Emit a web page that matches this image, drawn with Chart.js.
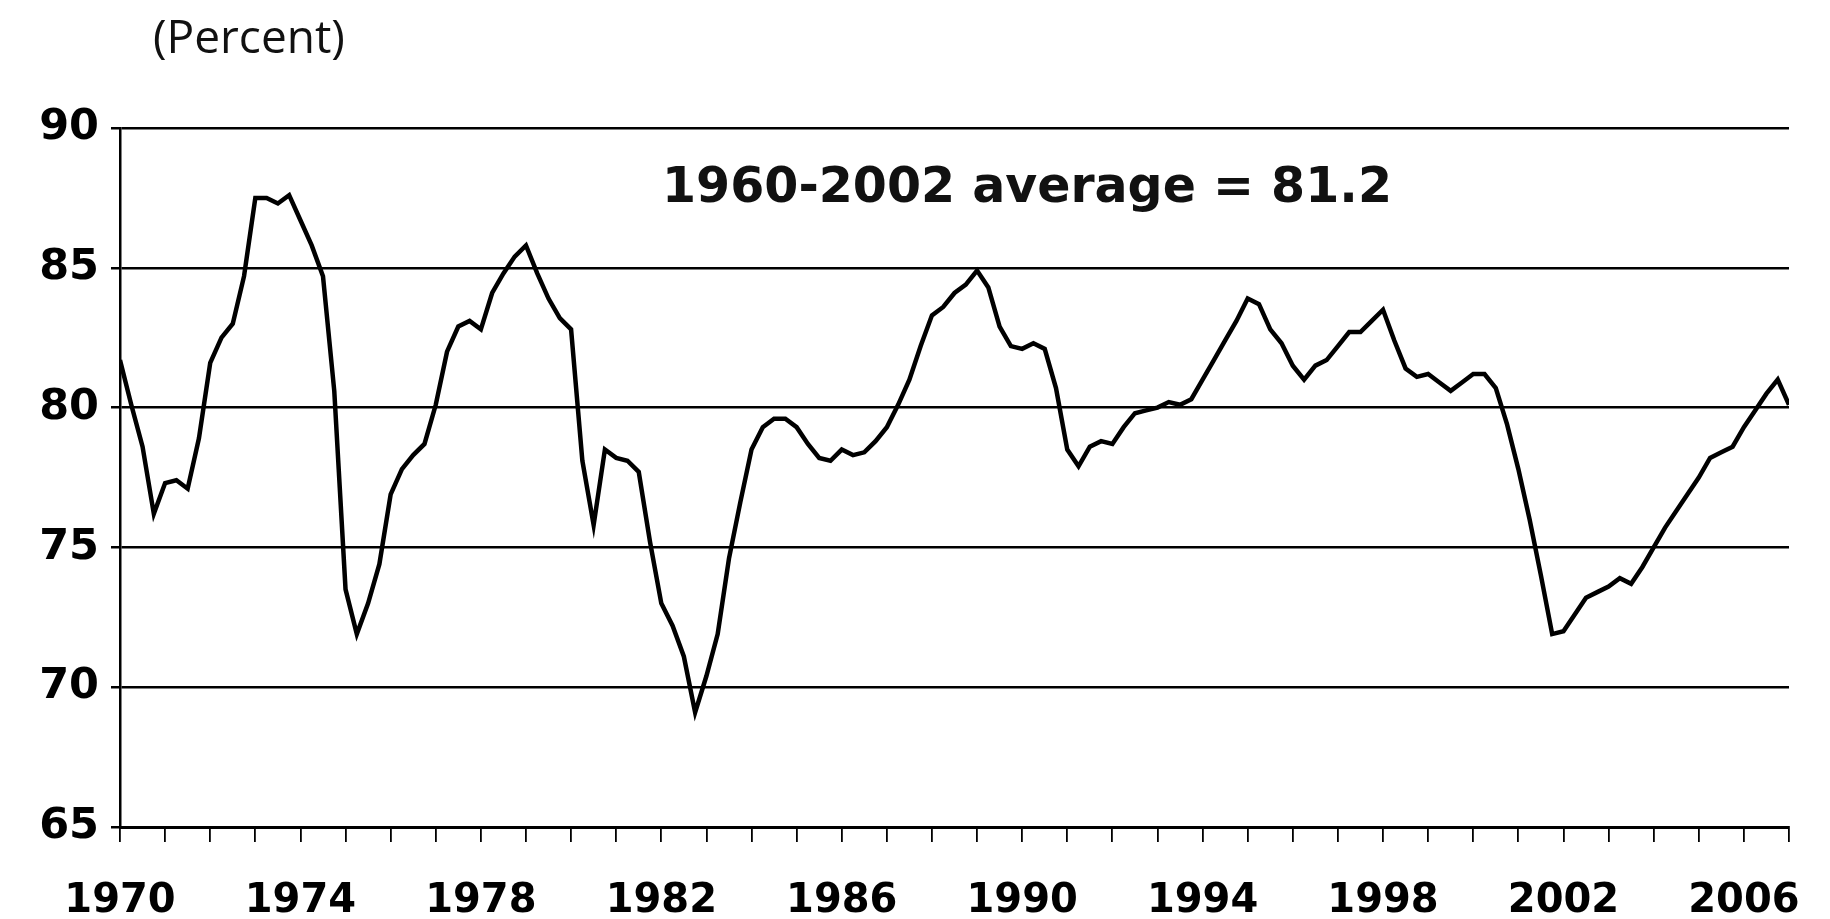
<!DOCTYPE html>
<html>
<head>
<meta charset="utf-8">
<title>Capacity utilization</title>
<script src="https://cdn.jsdelivr.net/npm/chart.js@4.4.1/dist/chart.umd.min.js"></script>
<style>
  html, body { margin: 0; padding: 0; background: #fff; }
  #wrap { position: relative; width: 1830px; height: 919px; }
  #unit {
    position: absolute; left: 153px; top: 12px;
    font: 46px 'Open Sans', sans-serif; line-height: 46px; color: #111;
  }
  #note {
    position: absolute; left: 662px; top: 161px;
    font: bold 49px 'DejaVu Sans', sans-serif; line-height: 49px; color: #111;
    white-space: nowrap;
  }
</style>
</head>
<body>
<div id="wrap">
  <canvas id="chart" width="1830" height="919"></canvas>
  <div id="unit">(Percent)</div>
  <div id="note">1960-2002 average = 81.2</div>
</div>
<script>
// quarterly values, 1970 Q1 .. 2007 Q1
const startYear = 1970;
const endYear = 2007;
const utilization = [
  81.7, 80.1, 78.6, 76.2,   // 1970
  77.3, 77.4, 77.1, 78.9,   // 1971
  81.6, 82.5, 83.0, 84.7,   // 1972
  87.5, 87.5, 87.3, 87.6,   // 1973
  86.7, 85.8, 84.7, 80.6,   // 1974
  73.5, 71.9, 73.0, 74.4,   // 1975
  76.9, 77.8, 78.3, 78.7,   // 1976
  80.1, 82.0, 82.9, 83.1,   // 1977
  82.8, 84.1, 84.8, 85.4,   // 1978
  85.8, 84.8, 83.9, 83.2,   // 1979
  82.8, 78.1, 75.8, 78.5,   // 1980
  78.2, 78.1, 77.7, 75.2,   // 1981
  73.0, 72.2, 71.1, 69.1,   // 1982
  70.4, 71.9, 74.6, 76.6,   // 1983
  78.5, 79.3, 79.6, 79.6,   // 1984
  79.3, 78.7, 78.2, 78.1,   // 1985
  78.5, 78.3, 78.4, 78.8,   // 1986
  79.3, 80.1, 81.0, 82.2,   // 1987
  83.3, 83.6, 84.1, 84.4,   // 1988
  84.9, 84.3, 82.9, 82.2,   // 1989
  82.1, 82.3, 82.1, 80.7,   // 1990
  78.5, 77.9, 78.6, 78.8,   // 1991
  78.7, 79.3, 79.8, 79.9,   // 1992
  80.0, 80.2, 80.1, 80.3,   // 1993
  81.0, 81.7, 82.4, 83.1,   // 1994
  83.9, 83.7, 82.8, 82.3,   // 1995
  81.5, 81.0, 81.5, 81.7,   // 1996
  82.2, 82.7, 82.7, 83.1,   // 1997
  83.5, 82.4, 81.4, 81.1,   // 1998
  81.2, 80.9, 80.6, 80.9,   // 1999
  81.2, 81.2, 80.7, 79.4,   // 2000
  77.8, 76.0, 74.0, 71.9,   // 2001
  72.0, 72.6, 73.2, 73.4,   // 2002
  73.6, 73.9, 73.7, 74.3,   // 2003
  75.0, 75.7, 76.3, 76.9,   // 2004
  77.5, 78.2, 78.4, 78.6,   // 2005
  79.3, 79.9, 80.5, 81.0,   // 2006
  80.1                      // 2007
];
const yearLabels = [1970, 1974, 1978, 1982, 1986, 1990, 1994, 1998, 2002, 2006];
const yTicks = [65, 70, 75, 80, 85, 90];

const points = utilization.map((v, i) => ({ x: startYear + i / 4, y: v }));
const xFont = { family: "'DejaVu Sans', sans-serif", size: 40, weight: 'bold' };
const yFont = { family: "'DejaVu Sans', sans-serif", size: 43, weight: 'bold' };

new Chart(document.getElementById('chart'), {
  type: 'line',
  data: {
    datasets: [{
      data: points,
      borderColor: '#000',
      borderWidth: 4.5,
      pointRadius: 0,
      tension: 0,
      fill: false
    }]
  },
  options: {
    responsive: false,
    animation: false,
    layout: { padding: { top: 128, right: 41, left: 0, bottom: 0 } },
    plugins: { legend: { display: false }, tooltip: { enabled: false } },
    scales: {
      x: {
        type: 'linear',
        min: startYear,
        max: endYear,
        afterFit: (scale) => { scale.height = 92; },
        ticks: {
          stepSize: 1,
          autoSkip: false,
          maxRotation: 0,
          padding: 36,
          color: '#000',
          font: xFont,
          callback: (v) => (yearLabels.includes(v) ? String(v) : '')
        },
        grid: { drawOnChartArea: false, drawTicks: true, tickLength: 15, color: '#000', lineWidth: 1.8 },
        border: { display: true, color: '#000', width: 3 }
      },
      y: {
        min: 65,
        max: 90,
        afterFit: (scale) => { scale.width = 120; },
        afterBuildTicks: (scale) => { scale.ticks = yTicks.map((v) => ({ value: v })); },
        ticks: { padding: 12, color: '#000', font: yFont },
        grid: { color: '#000', lineWidth: 2.5, tickLength: 9, drawTicks: true },
        border: { display: true, color: '#000', width: 2.5 }
      }
    }
  }
});
</script>
</body>
</html>
